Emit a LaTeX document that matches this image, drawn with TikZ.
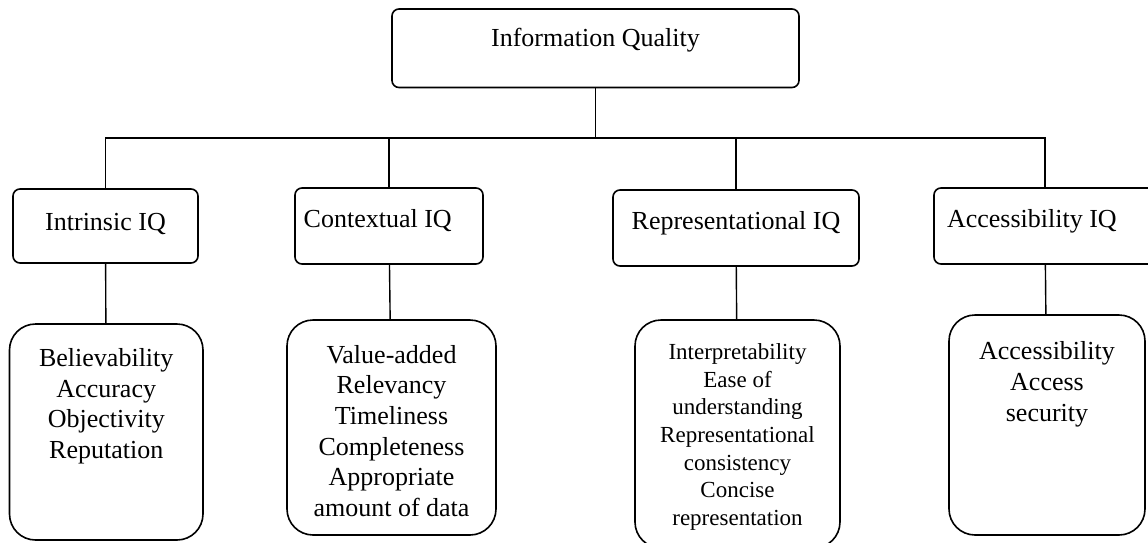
\documentclass[tikz,border=0pt]{standalone}
\usepackage{fontspec}
\setmainfont{Liberation Serif}

\begin{document}
\begin{tikzpicture}[x=0.5pt, y=-0.5pt]
    \tikzset{headbox/.style={draw, line width=0.8pt, rounded corners=3.5pt, text height=9pt, font=\fontsize{13pt}{15.3pt}\selectfont},
             listbox/.style={draw, line width=0.8pt, rounded corners=13pt, align=center, text depth=0pt, font=\fontsize{13pt}{15.3pt}\selectfont},
             myline/.style={line width=0.7pt}}
    \useasboundingbox (0,0) rectangle (1148,542);

    \draw node[headbox, minimum width=203.5pt, minimum height=39.25pt, text depth=10.5pt] (iq) at (595.5,48.25) {Information Quality};
    \draw node[headbox, minimum width=92.5pt, minimum height=37pt, text depth=5pt] (intr) at (105.5,226) {Intrinsic IQ};
    \draw node[headbox, minimum width=94pt, minimum height=38pt, text depth=7.7pt, align=flush left, text width=85.3pt] (ctx) at (389,226) {Contextual IQ};
    \draw node[headbox, minimum width=123pt, minimum height=38pt, text depth=7.4pt] (rep) at (736,228) {Representational IQ};
    \draw node[headbox, minimum width=111pt, minimum height=38pt, text depth=8pt, align=flush left, inner xsep=6.5pt, text width=98pt] (acc) at (1045,226) {Accessibility IQ};

    \draw node[listbox, minimum width=96.75pt, minimum height=108pt, text height=26.5pt] (bel) at (106.25,432) {Believability\\Accuracy\\Objectivity\\Reputation};
    \draw node[listbox, minimum width=104.5pt, minimum height=107.5pt, text height=88.8pt] (val) at (391.5,427.5) {Value-added\\Relevancy\\Timeliness\\Completeness\\Appropriate\\amount of data};
    \draw node[listbox, minimum width=102.5pt, minimum height=114pt, text height=91.2pt, font=\fontsize{11.5pt}{13.8pt}\selectfont] (interp) at (737.5,434) {Interpretability\\Ease of\\understanding\\Representational\\consistency\\Concise\\representation};
    \draw node[listbox, minimum width=98pt, minimum height=110pt, text height=9pt, text depth=13pt] (accb) at (1047,425) {Accessibility\\Access\\security};

    \coordinate (bar) at (595.5,138);
    \draw[myline] (iq) -- (bar);
    \draw[myline] (bar) -| (intr);
    \draw[myline] (bar) -| (ctx);
    \draw[myline] (bar) -| (rep);
    \draw[myline] (bar) -| (acc);

    \draw[myline] (intr) -- (bel);
    \draw[myline] (ctx) -- (val);
    \draw[myline] (rep) -- (interp);
    \draw[myline] (acc) -- (accb);
\end{tikzpicture}
\end{document}
